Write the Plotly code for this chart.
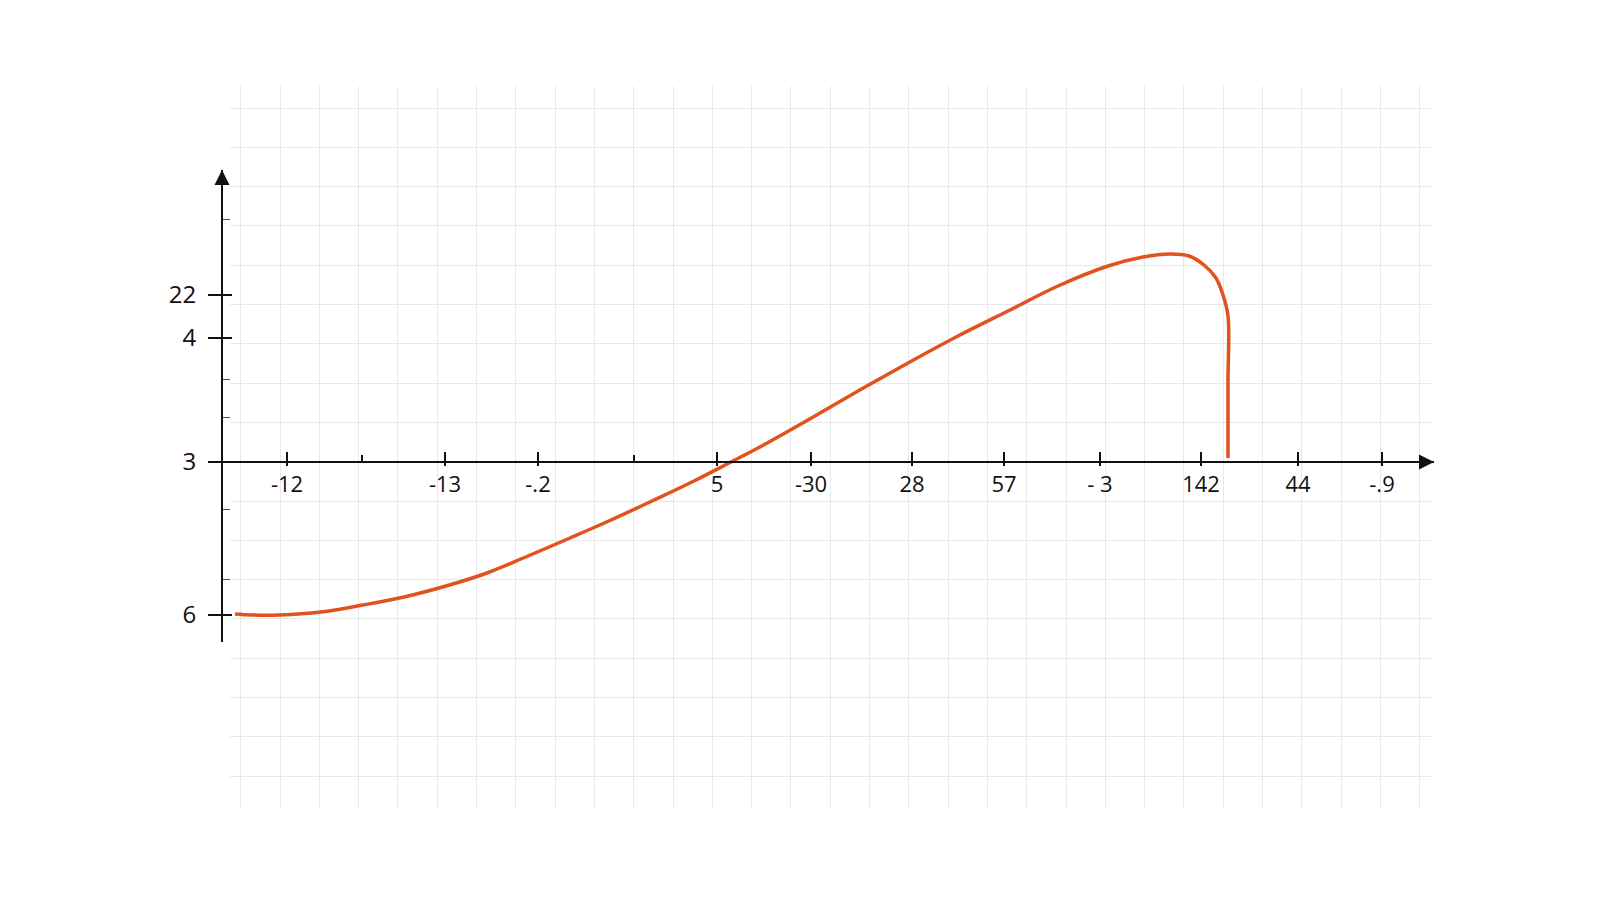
import plotly.graph_objects as go

# curve (axis units: x from the y-axis, y from the x-axis)
curve_x = [1.3, 3.0, 5.8, 9.9, 14.1, 18.2, 22.4, 26.5, 30.6, 34.8, 38.9, 43.0, 47.2,
           50.9, 53.6, 58.6, 63.6, 68.6, 73.6, 78.6, 83.6, 88.6, 92.1, 94.8, 96.7,
           98.2, 99.4, 100.1, 100.6, 100.6, 100.6]
curve_y = [-15.2, -15.3, -15.3, -15.0, -14.3, -13.5, -12.4, -11.1, -9.4, -7.6, -5.8,
           -3.9, -1.9, 0.0, 1.4, 4.2, 7.1, 9.9, 12.6, 15.1, 17.6, 19.6, 20.5, 20.8,
           20.6, 19.7, 18.4, 16.7, 14.6, 8.0, 0.4]

x_tick_pos = [6.5, 22.3, 31.6, 49.5, 58.9, 69.0, 78.2, 87.8, 97.9, 107.6, 116.0]
x_tick_text = ['-12', '-13', '-.2', '5', '-30', '28', '57', '- 3', '142', '44', '-.9']
x_minor_pos = [14.0, 41.2]

y_tick_pos = [-15.3, 0.0, 12.4, 16.7]
y_tick_text = ['6', '3', '4', '22']
y_minor_pos = [-11.7, -4.7, 4.5, 8.3, 24.3]

x_range = [0, 121.2]
y_range = [-18.0, 29.2]

W, H = 1600, 900
# pixel frame of the drawn axes and of the background grid
AX_L, AX_R, AX_T, AX_B, AX_Y0 = 214, 1426, 162, 634, 454
GR_L, GR_R, GR_T, GR_B = 222, 1423, 78, 800

INK = '#111111'
FONT = 'Open Sans'

fig = go.Figure()
# empty traces so the grid subplot and the overlay axes exist
fig.add_trace(go.Scatter(x=[], y=[], xaxis='x', yaxis='y', showlegend=False))
fig.add_trace(go.Scatter(x=[], y=[], xaxis='x3', yaxis='y3', showlegend=False))
fig.add_trace(go.Scatter(x=curve_x, y=curve_y, xaxis='x2', yaxis='y2', mode='lines',
                         line=dict(color='#e2521d', width=3.5, shape='spline', smoothing=1.0),
                         showlegend=False, hoverinfo='skip'))

grid = dict(showgrid=True, gridcolor='#e6e8ea', gridwidth=1, zeroline=False,
            showline=False, showticklabels=False, ticks='')
no_grid = dict(showgrid=False, zeroline=False)

fig.update_layout(
    width=W, height=H, margin=dict(l=0, r=0, t=0, b=0),
    paper_bgcolor='white', plot_bgcolor='rgba(0,0,0,0)',
    font=dict(family=FONT, color=INK),
    # background grid paper
    xaxis=dict(grid, domain=[GR_L / W, GR_R / W], range=[GR_L, GR_R],
               tick0=272, dtick=39.3, anchor='y'),
    yaxis=dict(grid, domain=[1 - GR_B / H, 1 - GR_T / H], range=[GR_B, GR_T],
               tick0=100, dtick=39.3, anchor='x'),
    # the drawn axes
    xaxis2=dict(no_grid, domain=[AX_L / W, AX_R / W], range=x_range,
                anchor='free', position=1 - AX_Y0 / H,
                showline=True, linecolor=INK, linewidth=2,
                tickmode='array', tickvals=x_tick_pos, ticktext=x_tick_text,
                ticks='inside', ticklen=9, tickwidth=1.8, tickcolor=INK,
                ticklabelstandoff=3, tickfont=dict(size=22, color=INK),
                minor=dict(tickvals=x_minor_pos, ticks='inside', ticklen=6,
                           tickwidth=1.5, tickcolor=INK, showgrid=False)),
    yaxis2=dict(no_grid, domain=[1 - AX_B / H, 1 - AX_T / H], range=y_range,
                anchor='free', position=AX_L / W,
                showline=True, linecolor=INK, linewidth=2,
                tickmode='array', tickvals=y_tick_pos, ticktext=y_tick_text,
                ticks='outside', ticklen=13, tickwidth=1.8, tickcolor=INK,
                ticklabelstandoff=7, tickfont=dict(size=24, color=INK),
                minor=dict(tickvals=y_minor_pos, ticks='inside', ticklen=7,
                           tickwidth=1.2, tickcolor='#555555', showgrid=False)),
    # short opposite halves of the crossing ticks
    xaxis3=dict(no_grid, overlaying='x2', range=x_range, anchor='free',
                position=1 - AX_Y0 / H, showline=False,
                tickmode='array', tickvals=x_tick_pos, ticks='outside', ticklen=3,
                tickwidth=1.8, tickcolor=INK, showticklabels=False),
    yaxis3=dict(no_grid, overlaying='y2', range=y_range, anchor='free',
                position=AX_L / W, showline=False,
                tickmode='array', tickvals=[v for v in y_tick_pos if v != 0],
                ticks='inside', ticklen=9, tickwidth=1.8, tickcolor=INK,
                showticklabels=False),
)

# arrow heads at the axis ends
fig.add_annotation(x=x_range[1], y=0, xref='x2', yref='y2', ax=-22, ay=0,
                   axref='pixel', ayref='pixel', text='', showarrow=True,
                   arrowhead=2, arrowsize=1.5, arrowwidth=2, arrowcolor=INK)
fig.add_annotation(x=0, y=y_range[1], xref='x2', yref='y2', ax=0, ay=22,
                   axref='pixel', ayref='pixel', text='', showarrow=True,
                   arrowhead=2, arrowsize=1.5, arrowwidth=2, arrowcolor=INK)

fig.write_html('out.html')
